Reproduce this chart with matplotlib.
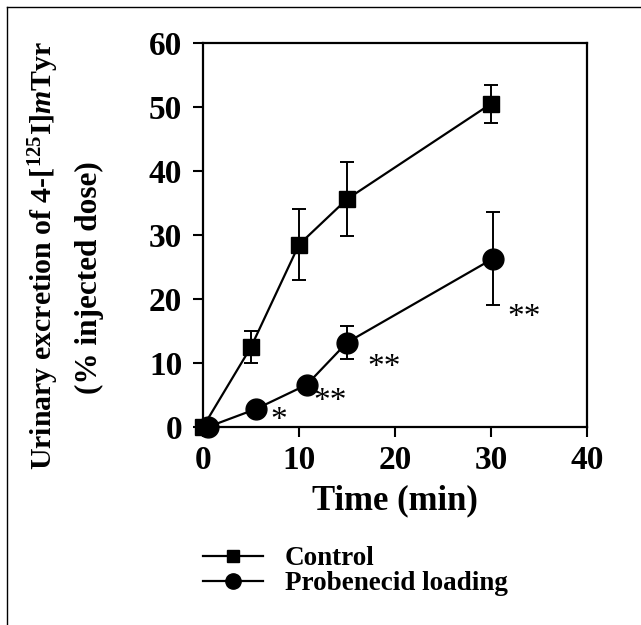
import matplotlib.pyplot as plt
from matplotlib.lines import Line2D

plt.rcParams['font.family'] = 'Liberation Serif'
plt.rcParams['mathtext.fontset'] = 'custom'
plt.rcParams['mathtext.rm'] = 'Liberation Serif:bold'
plt.rcParams['mathtext.it'] = 'Liberation Serif:bold:italic'
plt.rcParams['mathtext.bf'] = 'Liberation Serif:bold'

# data
control_t = [0, 5, 10, 15, 30]
control_y = [0, 12.5, 28.5, 35.6, 50.5]
control_err = [0, 2.5, 5.6, 5.8, 3.0]

probe_t = [0.5, 5.5, 10.8, 15, 30.2]
probe_y = [0, 2.8, 6.6, 13.2, 26.3]
probe_err = [0, 0, 0, 2.6, 7.3]

stars = ['*', '**', '**', '**']
star_x = [7.9, 13.2, 18.9, 33.4]
star_y = [1.0, 4.0, 9.2, 17.0]

fig = plt.figure(figsize=(6.41, 6.25), dpi=100)
ax = fig.add_axes([203/641, 1 - 427/625, 384/641, 384/625])

ax.errorbar(control_t, control_y, yerr=control_err, fmt='-s', color='black',
            ms=11, lw=1.6, elinewidth=1.4, capsize=5, capthick=1.4, zorder=3)
ax.errorbar(probe_t, probe_y, yerr=probe_err, fmt='-o', color='black',
            ms=15, lw=1.6, elinewidth=1.4, capsize=5, capthick=1.4, zorder=3)

for s, x, y in zip(stars, star_x, star_y):
    ax.text(x, y, s, fontsize=24, ha='center', va='center')

ax.set_xlim(0, 40)
ax.set_ylim(0, 60)
ax.set_xticks([0, 10, 20, 30, 40])
ax.set_yticks([0, 10, 20, 30, 40, 50, 60])
ax.tick_params(direction='out', length=7, width=1.5, labelsize=24)
ax.tick_params(axis='x', pad=6)
ax.tick_params(axis='y', pad=8)
for lab in ax.get_xticklabels() + ax.get_yticklabels():
    lab.set_fontweight('bold')
for sp in ax.spines.values():
    sp.set_linewidth(1.6)
for art in ax.lines + ax.collections:
    art.set_clip_on(False)

ax.set_xlabel('Time (min)', fontsize=25, fontweight='bold', labelpad=6)

fig.text(0.068, 0.592, 'Urinary excretion of 4-[$^{125}$I]$\\mathit{m}$Tyr',
         rotation=90, ha='center', va='center', fontsize=21.5, fontweight='bold')
fig.text(0.14, 0.555, '(% injected dose)',
         rotation=90, ha='center', va='center', fontsize=22.5, fontweight='bold')

handles = [Line2D([], [], color='black', lw=1.6, marker='s', ms=8),
           Line2D([], [], color='black', lw=1.6, marker='o', ms=11)]
labels = ['Control', 'Probenecid loading']
fig.legend(handles, labels, loc='upper left', bbox_to_anchor=(0.296, 0.148),
           frameon=False, prop={'weight': 'bold', 'size': 19.5},
           handlelength=2.2, handletextpad=0.8, labelspacing=0.0, borderpad=0)

# partial frame round the figure (top and left only)
fig.add_artist(Line2D([7/641, 1], [1 - 7/625, 1 - 7/625], color='black',
                      lw=1, transform=fig.transFigure))
fig.add_artist(Line2D([7/641, 7/641], [0, 1 - 7/625], color='black',
                      lw=1, transform=fig.transFigure))

fig.savefig('out.png', dpi=100)
